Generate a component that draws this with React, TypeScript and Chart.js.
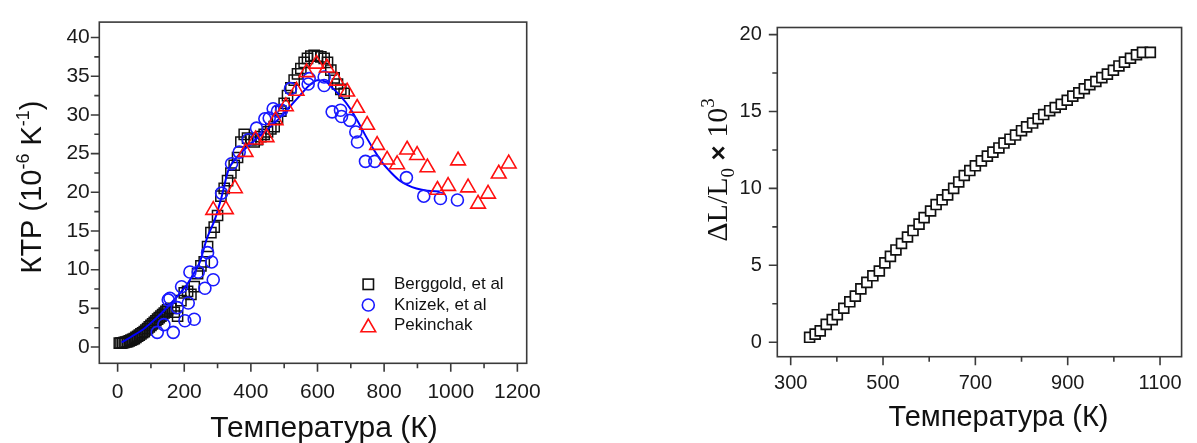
import React, { useEffect, useRef } from 'react';
import { Chart, registerables } from 'chart.js';

Chart.register(...registerables);

// ---------- Left chart: КТР vs temperature ----------
const berggoldT = [5, 10, 15, 20, 25, 30, 35, 40, 45, 50, 55, 60, 65, 70, 75, 80, 85, 90, 95, 100, 105, 110, 115, 120, 125, 130, 135, 140, 145, 150, 160, 170, 180, 190, 200, 210, 220, 230, 240, 250, 260, 270, 280, 290, 300, 310, 320, 330, 340, 350, 360, 370, 380, 390, 400, 410, 420, 430, 440, 450, 460, 470, 480, 490, 500, 510, 520, 530, 540, 550, 560, 570, 580, 590, 600, 610, 620, 630, 640, 650, 660, 670, 680];
const berggoldK = [0.5, 0.5, 0.55, 0.6, 0.65, 0.7, 0.8, 0.9, 1.0, 1.1, 1.25, 1.4, 1.55, 1.7, 1.85, 2.0, 2.2, 2.4, 2.6, 2.8, 3.0, 3.2, 3.4, 3.6, 3.8, 4.0, 4.2, 4.4, 4.6, 4.8, 5.0, 4.5, 4.0, 6.0, 7.0, 7.2, 6.8, 7.8, 9.5, 10.5, 11.0, 13.0, 14.8, 15.5, 17.0, 19.5, 20.5, 21.5, 22.5, 23.5, 24.5, 26.5, 27.5, 27.0, 26.8, 26.5, 26.8, 27.2, 27.5, 27.8, 28.2, 28.5, 29.5, 30.5, 31.5, 32.5, 33.5, 34.5, 35.3, 36.0, 36.8, 37.3, 37.6, 37.7, 37.6, 37.5, 37.3, 36.8, 35.8, 34.8, 34.0, 33.3, 32.8];

const knizekT = [119, 139, 152, 157, 167, 179, 192, 202, 212, 217, 230, 242, 262, 270, 282, 287, 312, 342, 365, 392, 417, 442, 455, 467, 480, 492, 519, 572, 575, 620, 620, 644, 669, 672, 697, 715, 720, 744, 772, 867, 919, 969, 1020];
const knizekK = [1.9, 2.9, 6.1, 6.3, 1.9, 5.1, 7.8, 3.4, 5.7, 9.7, 3.6, 9.7, 7.6, 12.2, 11.0, 8.7, 19.9, 23.7, 25.2, 26.8, 28.3, 29.5, 29.6, 30.8, 30.5, 30.6, 33.4, 34.0, 34.7, 34.9, 33.8, 30.4, 30.6, 29.8, 29.3, 27.8, 26.5, 24.0, 24.0, 21.9, 19.5, 19.2, 19.0];

const pekinchakT = [287, 325, 352, 384, 414, 447, 474, 505, 537, 567, 597, 628, 658, 689, 719, 749, 779, 809, 839, 869, 899, 930, 960, 992, 1022, 1052, 1082, 1112, 1144, 1174];
const pekinchakK = [17.7, 17.8, 20.5, 25.2, 26.8, 27.1, 29.3, 31.1, 33.1, 35.5, 36.6, 36.1, 34.4, 33.0, 30.9, 28.7, 26.1, 24.2, 23.6, 25.5, 24.8, 23.2, 20.3, 20.8, 24.1, 20.6, 18.5, 19.8, 22.4, 23.7];

const fitT = [12, 40, 80, 120, 147, 180, 207, 230, 247, 267, 292, 312, 332, 357, 387, 430, 477, 520, 547, 575, 600, 625, 647, 672, 697, 722, 747, 772, 797, 822, 847, 872, 897, 930, 967];
const fitK = [0.6, 1.3, 2.4, 3.9, 5.05, 6.6, 8.0, 9.6, 11.0, 13.9, 16.5, 19.4, 22.8, 24.5, 25.8, 27.4, 29.2, 31.2, 32.5, 33.8, 34.5, 34.3, 33.4, 32.3, 30.9, 29.1, 27.1, 25.3, 23.7, 22.5, 21.5, 20.9, 20.5, 20.2, 20.1];

const legendLabels = ['Berggold, et al', 'Knizek, et al', 'Pekinchak'];

const leftXTicks = [0, 200, 400, 600, 800, 1000, 1200];
const leftXMinor = [100, 300, 500, 700, 900, 1100];
const leftYTicks = [0, 5, 10, 15, 20, 25, 30, 35, 40];
const leftYMinor = [2.5, 7.5, 12.5, 17.5, 22.5, 27.5, 32.5, 37.5];

// ---------- Right chart: ΔL/L0 vs temperature ----------
const dilT = [341, 353, 364, 377, 390, 401, 415, 428, 440, 452, 465, 478, 492, 504, 516, 528, 540, 553, 565, 578, 589, 603, 615, 628, 640, 653, 664, 676, 688, 700, 713, 726, 738, 751, 762, 775, 787, 800, 811, 824, 836, 848, 861, 873, 886, 899, 911, 924, 936, 948, 961, 974, 986, 999, 1011, 1023, 1036, 1049, 1062, 1079];
const dilL = [0.32, 0.53, 0.74, 1.16, 1.47, 1.79, 2.21, 2.63, 3.0, 3.47, 3.89, 4.32, 4.63, 5.16, 5.58, 6.0, 6.42, 6.84, 7.26, 7.68, 8.1, 8.53, 8.95, 9.26, 9.58, 10.0, 10.42, 10.84, 11.16, 11.47, 11.79, 12.1, 12.36, 12.63, 12.95, 13.2, 13.47, 13.75, 14.0, 14.25, 14.53, 14.8, 15.05, 15.26, 15.47, 15.73, 16.0, 16.21, 16.48, 16.74, 16.95, 17.2, 17.43, 17.68, 17.96, 18.21, 18.46, 18.69, 18.84, 18.84];

const rightXTicks = [300, 500, 700, 900, 1100];
const rightXMinor = [400, 600, 800, 1000];
const rightYTicks = [0, 5, 10, 15, 20];
const rightYMinor = [2.5, 7.5, 12.5, 17.5];

const xTitle = 'Температура (К)';

const SANS = "'Liberation Sans', Arial, Helvetica, sans-serif";
const SERIF = "'Liberation Serif', 'Times New Roman', serif";

const zip = (xs: number[], ys: number[]) => xs.map((x, i) => ({ x, y: ys[i] }));

type Seg = { t: string; font: string; dy?: number };

function drawRich(ctx: CanvasRenderingContext2D, segs: Seg[], x: number, y: number, rot: boolean) {
  ctx.save();
  ctx.translate(x, y);
  if (rot) ctx.rotate(-Math.PI / 2);
  ctx.textBaseline = 'alphabetic';
  ctx.textAlign = 'left';
  ctx.fillStyle = '#111';
  let total = 0;
  const widths = segs.map((s) => {
    ctx.font = s.font;
    const w = ctx.measureText(s.t).width;
    total += w;
    return w;
  });
  let u = -total / 2;
  segs.forEach((s, i) => {
    ctx.font = s.font;
    ctx.fillText(s.t, u, s.dy || 0);
    u += widths[i];
  });
  ctx.restore();
}

function drawFrameAndTicks(chart: any, xMaj: number[], xMin: number[], yMaj: number[], yMin: number[]) {
  const { ctx, chartArea: a, scales } = chart;
  ctx.save();
  ctx.strokeStyle = '#3a3a3a';
  ctx.lineWidth = 1.6;
  ctx.strokeRect(a.left, a.top, a.right - a.left, a.bottom - a.top);
  ctx.beginPath();
  const tick = (vals: number[], len: number, axis: 'x' | 'y') => {
    vals.forEach((v) => {
      if (axis === 'x') {
        const px = scales.x.getPixelForValue(v);
        ctx.moveTo(px, a.bottom);
        ctx.lineTo(px, a.bottom + len);
      } else {
        const py = scales.y.getPixelForValue(v);
        ctx.moveTo(a.left, py);
        ctx.lineTo(a.left - len, py);
      }
    });
  };
  tick(xMaj, 8.5, 'x');
  tick(xMin, 5, 'x');
  tick(yMaj, 8.5, 'y');
  tick(yMin, 5, 'y');
  ctx.stroke();
  ctx.restore();
}

function axisOpts(min: number, max: number, ticks: number[], size: number, pad: number, fit: (s: any) => void) {
  return {
    type: 'linear' as const,
    min,
    max,
    afterBuildTicks: (s: any) => {
      s.ticks = ticks.map((v) => ({ value: v }));
    },
    afterFit: fit,
    grid: { display: false, drawTicks: false },
    border: { display: false },
    ticks: {
      autoSkip: false,
      maxRotation: 0,
      minRotation: 0,
      padding: pad,
      color: '#1a1a1a',
      font: { family: SANS, size },
      callback: (v: any) => String(v),
    },
  };
}

function LeftChart() {
  const ref = useRef<HTMLCanvasElement | null>(null);
  useEffect(() => {
    if (!ref.current) return;
    const decor = {
      id: 'decorLeft',
      afterDraw(chart: any) {
        const ctx = chart.ctx as CanvasRenderingContext2D;
        drawFrameAndTicks(chart, leftXTicks, leftXMinor, leftYTicks, leftYMinor);
        // legend
        const lx = 368.3;
        const ly = [284.3, 305, 325.5];
        ctx.save();
        ctx.lineWidth = 1.6;
        ctx.strokeStyle = '#111';
        ctx.strokeRect(lx - 5.2, ly[0] - 5.2, 10.4, 10.4);
        ctx.strokeStyle = '#1a1aff';
        ctx.beginPath();
        ctx.arc(lx, ly[1], 6, 0, Math.PI * 2);
        ctx.stroke();
        ctx.strokeStyle = '#ff1010';
        const r = 8.5;
        ctx.beginPath();
        ctx.moveTo(lx, ly[2] - r + 2);
        ctx.lineTo(lx - r * 0.866, ly[2] + r * 0.5 + 2);
        ctx.lineTo(lx + r * 0.866, ly[2] + r * 0.5 + 2);
        ctx.closePath();
        ctx.stroke();
        ctx.fillStyle = '#111';
        ctx.font = `17px ${SANS}`;
        ctx.textBaseline = 'middle';
        ctx.textAlign = 'left';
        legendLabels.forEach((t, i) => ctx.fillText(t, 394, ly[i]));
        ctx.restore();
        // titles
        drawRich(ctx, [{ t: xTitle, font: `30px ${SANS}` }], 324, 436.5, false);
        drawRich(
          ctx,
          [
            { t: 'КТР (10', font: `29px ${SANS}` },
            { t: '-6', font: `18px ${SANS}`, dy: -12 },
            { t: ' K', font: `29px ${SANS}` },
            { t: '-1', font: `18px ${SANS}`, dy: -12 },
            { t: ')', font: `29px ${SANS}` },
          ],
          41,
          187,
          true
        );
      },
    };
    const chart = new Chart(ref.current, {
      type: 'scatter',
      data: {
        datasets: [
          {
            label: legendLabels[2],
            data: zip(pekinchakT, pekinchakK),
            pointStyle: 'triangle',
            pointRadius: 8.5,
            pointBorderColor: '#ff1010',
            pointBackgroundColor: 'rgba(0,0,0,0)',
            pointBorderWidth: 1.6,
            order: 0,
          },
          {
            label: legendLabels[1],
            data: zip(knizekT, knizekK),
            pointStyle: 'circle',
            pointRadius: 6,
            pointBorderColor: '#1a1aff',
            pointBackgroundColor: 'rgba(0,0,0,0)',
            pointBorderWidth: 1.6,
            order: 1,
          },
          {
            label: 'fit',
            data: zip(fitT, fitK),
            showLine: true,
            pointRadius: 0,
            borderColor: '#0000ff',
            borderWidth: 2,
            cubicInterpolationMode: 'monotone',
            order: 2,
          } as any,
          {
            label: legendLabels[0],
            data: zip(berggoldT, berggoldK),
            pointStyle: 'rect',
            pointRadius: 7.2,
            pointBorderColor: '#111',
            pointBackgroundColor: 'rgba(0,0,0,0)',
            pointBorderWidth: 1.5,
            order: 3,
          },
        ],
      },
      options: {
        animation: false,
        responsive: false,
        events: [],
        layout: { padding: { left: 0, top: 15.7, right: 73.3, bottom: 0 } },
        plugins: { legend: { display: false }, tooltip: { enabled: false } },
        scales: {
          x: axisOpts(-55, 1228, leftXTicks, 21, 16, (s: any) => {
            s.height = 79.7;
          }),
          y: axisOpts(-2.1, 42, leftYTicks, 21, 9.5, (s: any) => {
            s.width = 99.3;
          }),
        },
      },
      plugins: [decor],
    } as any);
    return () => chart.destroy();
  }, []);
  return <canvas ref={ref} width={600} height={443} style={{ display: 'block', width: 600, height: 443 }} />;
}

function RightChart() {
  const ref = useRef<HTMLCanvasElement | null>(null);
  useEffect(() => {
    if (!ref.current) return;
    const decor = {
      id: 'decorRight',
      afterDraw(chart: any) {
        const ctx = chart.ctx as CanvasRenderingContext2D;
        drawFrameAndTicks(chart, rightXTicks, rightXMinor, rightYTicks, rightYMinor);
        drawRich(ctx, [{ t: xTitle, font: `29px ${SANS}` }], 398.5, 426, false);
        drawRich(
          ctx,
          [
            { t: 'ΔL/L', font: `30px ${SERIF}` },
            { t: '0', font: `19px ${SERIF}`, dy: 7 },
            { t: ' ', font: `30px ${SERIF}` },
            { t: '×', font: `bold 26px ${SANS}` },
            { t: ' 10', font: `30px ${SERIF}` },
            { t: '3', font: `19px ${SERIF}`, dy: -13 },
          ],
          127,
          170,
          true
        );
      },
    };
    const chart = new Chart(ref.current, {
      type: 'scatter',
      data: {
        datasets: [
          {
            label: 'ΔL/L0',
            data: zip(dilT, dilL),
            pointStyle: 'rect',
            pointRadius: 7,
            pointBorderColor: '#111',
            pointBackgroundColor: '#ffffff',
            pointBorderWidth: 1.7,
          },
        ],
      },
      options: {
        animation: false,
        responsive: false,
        events: [],
        layout: { padding: { left: 0, top: 16.7, right: 5.3, bottom: 0 } },
        plugins: { legend: { display: false }, tooltip: { enabled: false } },
        scales: {
          x: axisOpts(271, 1146.7, rightXTicks, 20, 15, (s: any) => {
            s.height = 86.3;
          }),
          y: axisOpts(-0.94, 20.46, rightYTicks, 20, 15.5, (s: any) => {
            s.width = 177.3;
          }),
        },
      },
      plugins: [decor],
    } as any);
    return () => chart.destroy();
  }, []);
  return <canvas ref={ref} width={597} height={443} style={{ display: 'block', width: 597, height: 443 }} />;
}

export default function App() {
  return (
    <div style={{ position: 'fixed', left: 0, top: 0, width: 1197, height: 443, background: '#fff', display: 'flex' }}>
      <LeftChart />
      <RightChart />
    </div>
  );
}
